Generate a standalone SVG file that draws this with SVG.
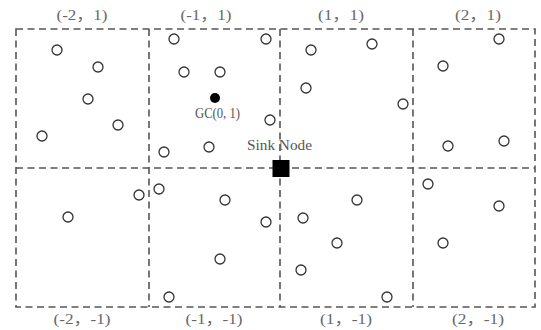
<svg xmlns="http://www.w3.org/2000/svg" width="541" height="330" viewBox="0 0 541 330">
<style>
.grid{fill:none;stroke:#555;stroke-width:1.6;stroke-dasharray:7,4.5}
.n{fill:#fff;stroke:#333;stroke-width:1.3}
.lbl{font-family:"Liberation Serif","Noto Sans CJK SC",serif;font-size:14px;fill:#666;text-anchor:middle}
.t{font-family:"Liberation Serif","Noto Sans CJK SC",serif;font-size:14.5px;fill:#555;text-anchor:middle}
</style>
<rect width="541" height="330" fill="#fff"/>
<g id="connectors">
<rect class="grid" x="16" y="29" width="519" height="278"/>
<line class="grid" x1="149" y1="29" x2="149" y2="307"/>
<line class="grid" x1="280" y1="29" x2="280" y2="307"/>
<line class="grid" x1="413" y1="29" x2="413" y2="307"/>
<line class="grid" x1="16" y1="168" x2="535" y2="168"/>
</g>
<g id="labels">
<text class="lbl" x="82" y="20" textLength="51" lengthAdjust="spacingAndGlyphs">(-2，1)</text>
<text class="lbl" x="206" y="20" textLength="51" lengthAdjust="spacingAndGlyphs">(-1，1)</text>
<text class="lbl" x="341" y="20" textLength="46" lengthAdjust="spacingAndGlyphs">(1，1)</text>
<text class="lbl" x="478" y="20" textLength="46" lengthAdjust="spacingAndGlyphs">(2，1)</text>
<text class="lbl" x="82" y="324" textLength="57" lengthAdjust="spacingAndGlyphs">(-2，-1)</text>
<text class="lbl" x="214" y="324" textLength="57" lengthAdjust="spacingAndGlyphs">(-1，-1)</text>
<text class="lbl" x="346" y="324" textLength="52" lengthAdjust="spacingAndGlyphs">(1，-1)</text>
<text class="lbl" x="478" y="324" textLength="52" lengthAdjust="spacingAndGlyphs">(2，-1)</text>
</g>
<g id="cell-m2-1">
<circle class="n" cx="57" cy="50" r="5"/>
<circle class="n" cx="98" cy="67" r="5"/>
<circle class="n" cx="88" cy="99" r="5"/>
<circle class="n" cx="118" cy="125" r="5"/>
<circle class="n" cx="42" cy="136" r="5"/>
</g>
<g id="cell-m1-1">
<circle class="n" cx="174" cy="39" r="5"/>
<circle class="n" cx="266" cy="39" r="5"/>
<circle class="n" cx="184" cy="72" r="5"/>
<circle class="n" cx="220" cy="72" r="5"/>
<circle class="n" cx="270" cy="120" r="5"/>
<circle class="n" cx="209" cy="147" r="5"/>
<circle class="n" cx="164" cy="152" r="5"/>
</g>
<g id="gc">
<circle cx="215" cy="98" r="5" fill="#000"/>
<text class="t" x="217.5" y="118" textLength="45" lengthAdjust="spacingAndGlyphs">GC(0, 1)</text>
</g>
<g id="cell-1-1">
<circle class="n" cx="311" cy="50" r="5"/>
<circle class="n" cx="372" cy="44" r="5"/>
<circle class="n" cx="306" cy="88" r="5"/>
<circle class="n" cx="403" cy="104" r="5"/>
</g>
<g id="cell-2-1">
<circle class="n" cx="499" cy="39" r="5"/>
<circle class="n" cx="443" cy="66" r="5"/>
<circle class="n" cx="448" cy="146" r="5"/>
<circle class="n" cx="504" cy="141" r="5"/>
</g>
<g id="cell-m2-m1">
<circle class="n" cx="68" cy="217" r="5"/>
<circle class="n" cx="139" cy="195" r="5"/>
</g>
<g id="cell-m1-m1">
<circle class="n" cx="159" cy="189" r="5"/>
<circle class="n" cx="225" cy="200" r="5"/>
<circle class="n" cx="266" cy="222" r="5"/>
<circle class="n" cx="220" cy="259" r="5"/>
<circle class="n" cx="169" cy="297" r="5"/>
</g>
<g id="cell-1-m1">
<circle class="n" cx="303" cy="218" r="5" stroke-width="1.8" stroke="#111"/>
<circle class="n" cx="357" cy="200" r="5"/>
<circle class="n" cx="337" cy="243" r="5"/>
<circle class="n" cx="301" cy="270" r="5"/>
<circle class="n" cx="387" cy="297" r="5"/>
</g>
<g id="cell-2-m1">
<circle class="n" cx="428" cy="184" r="5"/>
<circle class="n" cx="499" cy="206" r="5"/>
<circle class="n" cx="443" cy="243" r="5"/>
</g>
<g id="sink">
<rect x="272.5" y="160" width="17" height="17" fill="#000"/>
<text class="t" x="279.5" y="150" textLength="65" lengthAdjust="spacingAndGlyphs">Sink Node</text>
</g>
</svg>
